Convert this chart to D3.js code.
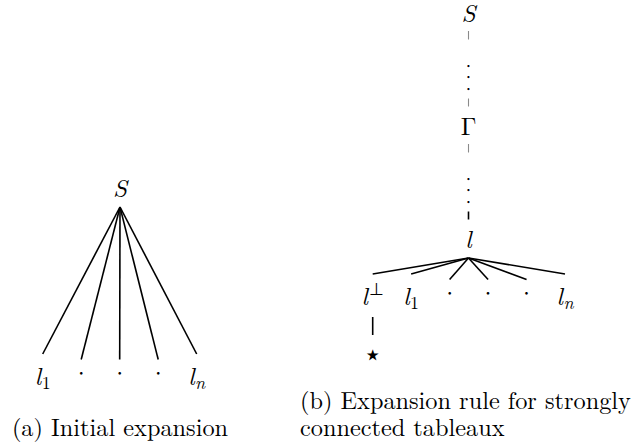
<!DOCTYPE html>
<html>
<head>
<meta charset="utf-8">
<script src="https://cdn.jsdelivr.net/npm/d3@7"></script>
<style>
  body { margin: 0; background: #fff; }
  .math { font-family: "Latin Modern Roman", "Liberation Serif", serif; font-size: 25px; fill: #000; }
  .caption { font-family: "Latin Modern Roman", "Liberation Serif", serif; font-size: 24.3px; fill: #000; }
  .edge { stroke: #000; stroke-width: 1.6; fill: none; }
</style>
</head>
<body>
<svg id="fig" width="638" height="445"></svg>
<script>
/* node labels */
var initialRoot = {base: 'S'};
var initialChildren = [
  {base: 'l', sub: '1'},
  {dot: true}, {dot: true}, {dot: true},
  {base: 'l', sub: 'n', subItalic: true}
];
var chainLabels = [
  {base: 'S'},
  {vdots: true},
  {base: '\u0393', upright: true},
  {vdots: true},
  {base: 'l'}
];
var ruleChildren = [
  {base: 'l', sup: '\u22A5'},
  {base: 'l', sub: '1'},
  {dot: true}, {dot: true}, {dot: true},
  {base: 'l', sub: 'n', subItalic: true}
];
var closedLabel = '\u22C6';
var captionA = ['(a) Initial expansion'];
var captionB = ['(b) Expansion rule for strongly', 'connected tableaux'];

var svg = d3.select('#fig');

// layout
var xA = d3.scalePoint().domain(d3.range(initialChildren.length)).range([42.7, 196.7]);
var xB = d3.scalePoint().domain(d3.range(ruleChildren.length)).range([372.7, 565]);
var yChain = d3.scalePoint().domain(d3.range(chainLabels.length)).range([22, 248]);
var rootAx = 120, rootAy = 197, leafAy = 385;
var chainX = 468.5, leafBy = 305;

/**
 * Write one node label, baseline at y, centred on x.
 */
function drawLabel(g, d, x, y) {
  if (d.vdots) {
    // \vdots: three small dots, one text each
    [-12.5, -1.5, 9.8].forEach(function (dy) {
      g.append('text')
        .attr('class', 'math')
        .attr('x', x)
        .attr('y', y + dy + 2.4)
        .attr('text-anchor', 'middle')
        .style('font-size', '7.5px')
        .text('\u2022');
    });
    return;
  }
  var t = g.append('text')
    .attr('class', 'math')
    .attr('x', x)
    .attr('y', y)
    .attr('text-anchor', 'middle');
  if (d.dot) {
    t.attr('y', y - 3.5).text('\u00B7');
    return t;
  }
  t.append('tspan')
    .style('font-style', d.upright ? 'normal' : 'italic')
    .text(d.base);
  if (d.sub) {
    t.append('tspan')
      .attr('dy', 3.5)
      .attr('dx', 0.5)
      .attr('font-size', 18)
      .style('font-style', d.subItalic ? 'italic' : 'normal')
      .text(d.sub);
  }
  if (d.sup) {
    t.append('tspan')
      .attr('dy', -10)
      .attr('dx', 1)
      .attr('font-size', 17)
      .text(d.sup);
  }
  return t;
}

// the end of an edge sits higher above a letter than above a dot
function edgeEnd(d, baseline) {
  return d.dot ? baseline - 25.5 : baseline - 31;
}

/* (a) initial expansion */
var gA = svg.append('g').attr('class', 'tree-a');

gA.selectAll('line.edge')
  .data(initialChildren)
  .enter()
  .append('line')
  .attr('class', 'edge')
  .attr('x1', rootAx)
  .attr('y1', rootAy + 10)
  .attr('x2', function (d, i) { return xA(i); })
  .attr('y2', function (d) { return edgeEnd(d, leafAy); });

drawLabel(gA, initialRoot, rootAx, rootAy);
initialChildren.forEach(function (d, i) {
  drawLabel(gA, d, xA(i), leafAy);
});

/* (b) expansion rule */
var gB = svg.append('g').attr('class', 'tree-b');

// dashed chain from S down to l: one dash shows beside each letter
d3.range(chainLabels.length - 1).forEach(function (i) {
  var y1, y2;
  if (!chainLabels[i].vdots) {
    y1 = yChain(i) + 9;
    y2 = yChain(i) + 17.5;
  } else {
    y1 = yChain(i + 1) - 36.5;
    y2 = yChain(i + 1) - 28.5;
  }
  var last = i === chainLabels.length - 2;
  gB.append('line')
    .attr('x1', chainX)
    .attr('x2', chainX)
    .attr('y1', y1)
    .attr('y2', y2)
    .attr('stroke', last ? '#000' : '#8a8a8a')
    .attr('stroke-width', last ? 1.6 : 1.1);
});

chainLabels.forEach(function (d, i) {
  drawLabel(gB, d, chainX, yChain(i));
});

var ruleRootY = yChain(chainLabels.length - 1);

gB.selectAll('line.edge')
  .data(ruleChildren)
  .enter()
  .append('line')
  .attr('class', 'edge')
  .attr('x1', chainX)
  .attr('y1', ruleRootY + 10)
  .attr('x2', function (d, i) { return xB(i); })
  .attr('y2', function (d) { return edgeEnd(d, leafBy); });

ruleChildren.forEach(function (d, i) {
  drawLabel(gB, d, xB(i), leafBy);
});

// closing branch under l-perp
gB.append('line')
  .attr('class', 'edge')
  .attr('x1', xB(0))
  .attr('x2', xB(0))
  .attr('y1', leafBy + 12)
  .attr('y2', leafBy + 30);

gB.append('text')
  .attr('class', 'math')
  .attr('x', xB(0) - 0.5)
  .attr('y', leafBy + 60)
  .attr('text-anchor', 'middle')
  .style('font-size', '31px')
  .text(closedLabel);

/* captions */
svg.append('text')
  .attr('class', 'caption')
  .attr('x', rootAx)
  .attr('y', 436)
  .attr('text-anchor', 'middle')
  .text(captionA[0]);

svg.append('g')
  .selectAll('text')
  .data(captionB)
  .enter()
  .append('text')
  .attr('class', 'caption')
  .attr('x', 300)
  .attr('y', function (d, i) { return 409 + i * 27; })
  .text(function (d) { return d; });
</script>
</body>
</html>
